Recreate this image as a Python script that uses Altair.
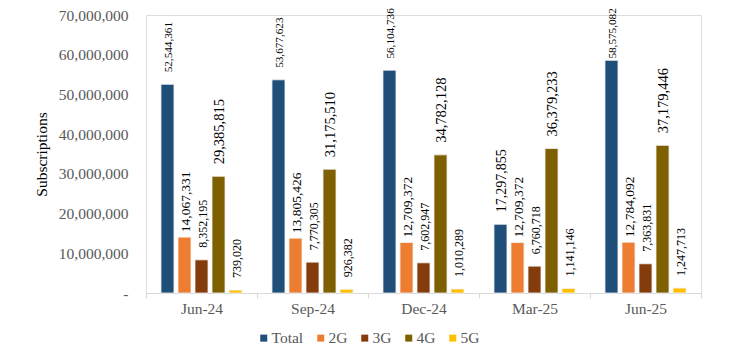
import altair as alt
import pandas as pd

categories = ["Jun-24", "Sep-24", "Dec-24", "Mar-25", "Jun-25"]
series = ["Total", "2G", "3G", "4G", "5G"]
total = [52544361, 53677623, 56104736, 17297855, 58575082]
g2 = [14067331, 13805426, 12709372, 12709372, 12784092]
g3 = [8352195, 7770305, 7602947, 6760718, 7363831]
g4 = [29385815, 31175510, 34782128, 36379233, 37179446]
g5 = [739020, 926382, 1010289, 1141146, 1247713]
y_ticks = [0, 10000000, 20000000, 30000000, 40000000, 50000000, 60000000, 70000000]

colors = ["#1F4E79", "#ED7D31", "#843C0C", "#7F6000", "#FFC000"]

rows = []
for name, vals in zip(series, [total, g2, g3, g4, g5]):
    for c, v in zip(categories, vals):
        rows.append({"period": c, "series": name, "value": v})
df = pd.DataFrame(rows)

FONT = "Liberation Serif"

x_enc = alt.X(
    "period:N",
    sort=categories,
    scale=alt.Scale(paddingInner=0, paddingOuter=0),
    axis=alt.Axis(
        title=None,
        labelAngle=0,
        labelFont=FONT,
        labelFontSize=15.5,
        labelColor="#595959",
        domainColor="#D9D9D9",
        tickColor="#D9D9D9",
        tickSize=5,
        tickBand="extent",
        labelPadding=3,
        grid=False,
    ),
)
xoff = alt.XOffset(
    "series:N",
    sort=series,
    scale=alt.Scale(domain=series, paddingInner=0.235, paddingOuter=0.88),
)
y_scale = alt.Scale(domain=[0, 70000000], nice=False)
y_axis = alt.Axis(
    title="Subscriptions",
    titleFont=FONT,
    titleFontSize=15.5,
    titleFontWeight="normal",
    titleColor="#000000",
    titlePadding=9,
    values=y_ticks,
    labelExpr="datum.value == 0 ? '-' : format(datum.value, ',d')",
    labelFont=FONT,
    labelFontSize=15.5,
    labelColor="#595959",
    labelPadding=18,
    ticks=False,
    domain=False,
    grid=False,
)

bars = alt.Chart(df).mark_bar(stroke="#F2F2F2", strokeWidth=0.8).encode(
    x=x_enc,
    xOffset=xoff,
    y=alt.Y("value:Q", scale=y_scale, axis=y_axis),
    color=alt.Color(
        "series:N",
        sort=series,
        scale=alt.Scale(domain=series, range=colors),
        legend=alt.Legend(
            title=None,
            orient="none",
            legendX=110,
            legendY=315,
            direction="horizontal",
            symbolType="square",
            symbolSize=49,
            symbolStrokeWidth=0,
            labelFont=FONT,
            labelFontSize=15.5,
            labelColor="#595959",
            labelOffset=0,
            columnPadding=9,
        ),
    ),
)

size_expr = (
    "datum.series == 'Total' ? (datum.value > 50000000 ? 11.2 : 14) : "
    "datum.series == '2G' ? 13.5 : datum.series == '4G' ? 14.5 : 12"
)


def label_layer(flt, dx):
    return (
        alt.Chart(df)
        .transform_filter(flt)
        .transform_calculate(ly="min(datum.value, 56000000)", lsize=size_expr)
        .mark_text(angle=270, align="left", baseline="middle", dx=dx, dy=1.5, font=FONT, color="#000000")
        .encode(
            x=x_enc,
            xOffset=xoff,
            y=alt.Y("ly:Q", scale=y_scale, axis=y_axis),
            text=alt.Text("value:Q", format=",d"),
            size=alt.Size("lsize:Q", scale=None, legend=None),
        )
    )


labels_main = label_layer("datum.series != '2G'", 12)
labels_2g = label_layer("datum.series == '2G'", 5)

chart = (
    alt.layer(bars, labels_main, labels_2g)
    .properties(
        width=555,
        height=278,
        autosize="none",
        padding={"left": 138, "top": 7, "right": 33, "bottom": 57},
    )
    .configure_view(stroke=None)
    .configure_legend(labelFont=FONT)
    .configure(background="white")
)

chart.save("out.html", embed_options={"renderer": "svg", "actions": False})
